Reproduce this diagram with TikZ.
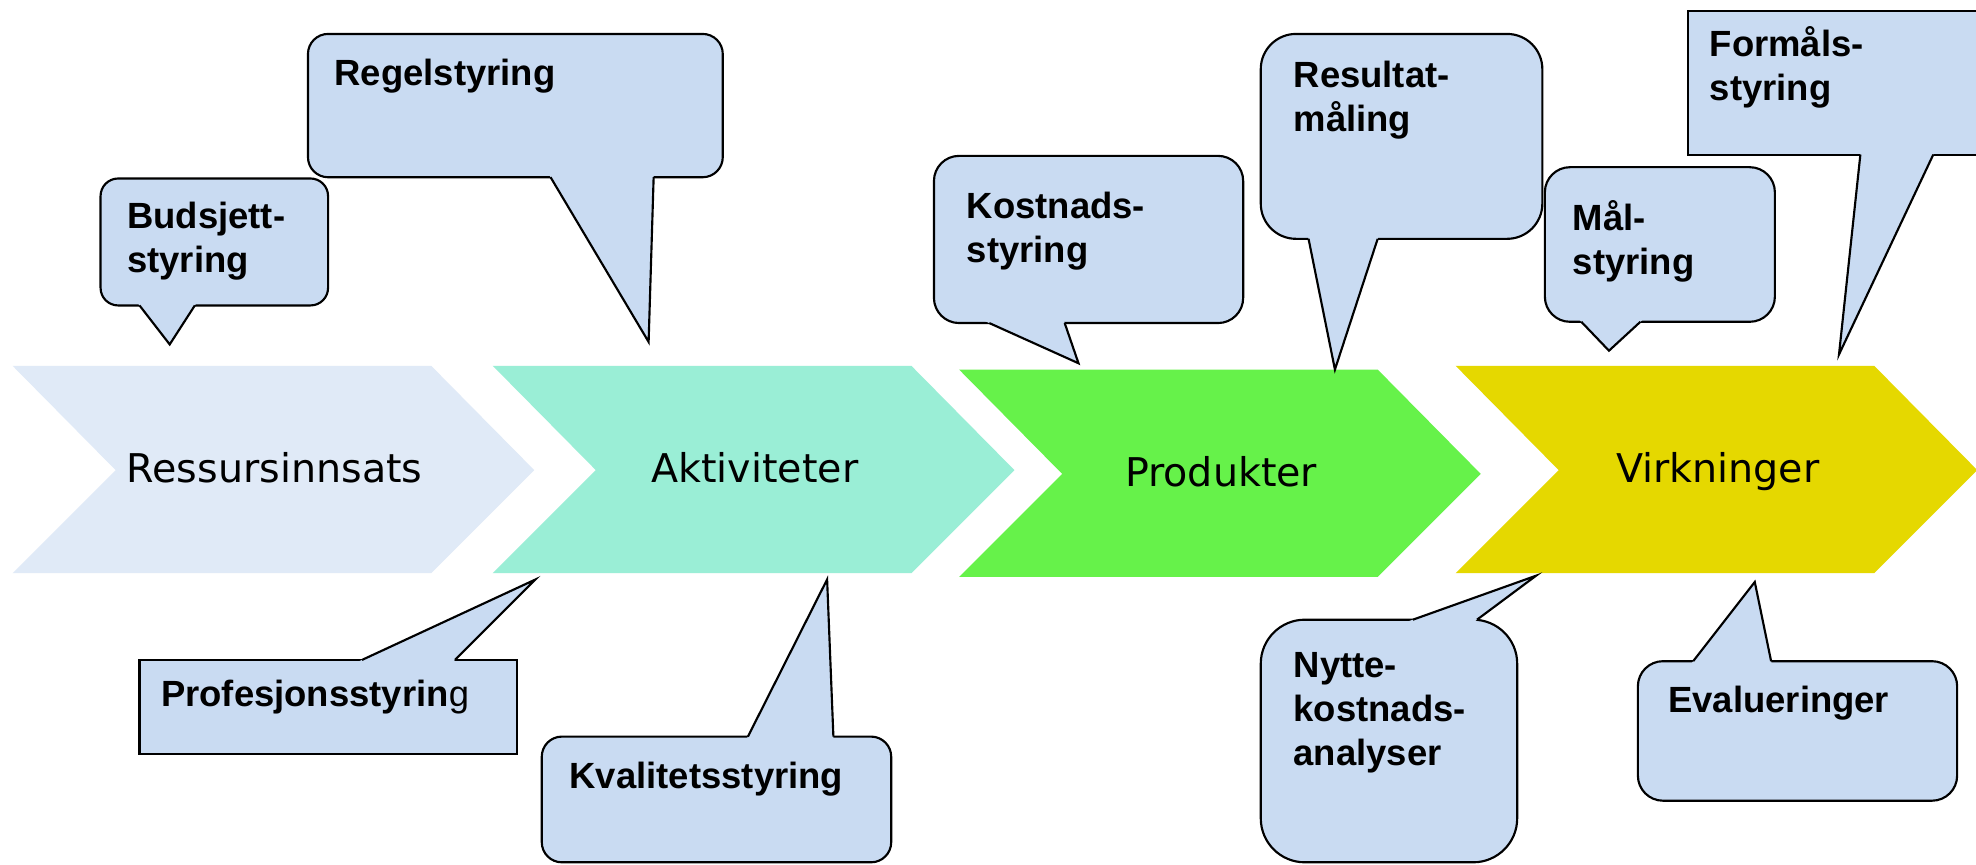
\documentclass[tikz,border=0pt]{standalone}
\usepackage{fontspec}
\setmainfont{Liberation Sans}
\newfontfamily\chevfont{DejaVu Sans}
\usepackage{tikz}
\usetikzlibrary{calc}
\definecolor{ressurs}{HTML}{E0EAF7}
\definecolor{aktiv}{HTML}{9AEED6}
\definecolor{produkt}{HTML}{66F24A}
\definecolor{virkning}{HTML}{E5D800}
\definecolor{bullefond}{HTML}{C9DBF2}
\tikzstyle{bulle}=[draw=black,line width=1.7pt,fill=bullefond]
\tikzstyle{queue}=[draw=black,line width=1.7pt,line join=miter]
\tikzstyle{etiq}=[anchor=base west,inner sep=0pt,align=left,font=\fontsize{29}{35}\selectfont\bfseries]
\tikzstyle{titre}=[anchor=base,inner sep=0pt,font=\chevfont\fontsize{31.5}{37}\selectfont]
\newcommand{\bulle}[6][]{%
  \draw[bulle,#1] #2 rectangle #3;
  \fill[bullefond] ($#4!-0.06!#5$) -- #5 -- ($#6!-0.06!#5$) -- cycle;
  \draw[queue] #4 -- #5 -- #6;}

\begin{document}
\begin{tikzpicture}[x=1pt,y=-1pt]
\useasboundingbox (0,0) rectangle (1572,687.4);
\fill[white] (0,0) rectangle (1572,687.4);
%Les fleches
\foreach \x/\y/\coul/\texte/\nom in {10/291/ressurs/Ressursinnsats/res,
  392/291/aktiv/Aktiviteter/akt, 763/294/produkt/Produkter/prod,
  1158/291/virkning/Virkninger/virk}{
  \fill[\coul] (\x,\y) -- ++(333,0) -- ++(82,83) -- ++(-82,82) -- ++(-333,0) -- ++(82,-82) -- cycle;
  \node[titre] (\nom) at (\x+208.5,\y+93) {\texte};
}
%Les bulles
\bulle[rounded corners=14]{(80,142)}{(261,243)}{(111,243)}{(135,274)}{(155,243)}
\bulle[rounded corners=16]{(245,27)}{(575,141)}{(438,141)}{(516,272)}{(520,141)}
\bulle{(111,525)}{(411,600)}{(288,525)}{(426,461)}{(362,525)}
\bulle[rounded corners=16]{(431,586)}{(709,686)}{(595,586)}{(658,461)}{(663,586)}
\bulle[rounded corners=20]{(743,124)}{(989,257)}{(787,257)}{(858,289)}{(847,257)}
\bulle[rounded corners=28]{(1003,27)}{(1227,190)}{(1041,190)}{(1062,294)}{(1096,190)}
\bulle[rounded corners=20]{(1229,133)}{(1412,256)}{(1258,256)}{(1280,279)}{(1305,256)}
\bulle{(1343,9)}{(1590,123)}{(1480,123)}{(1463,282)}{(1538,123)}
\bulle[rounded corners=35]{(1003,493)}{(1207,686)}{(1124,493)}{(1222,458)}{(1175,493)}
\bulle[rounded corners=20]{(1303,526)}{(1557,637)}{(1347,526)}{(1396,463)}{(1409,526)}
%Les textes (base = derniere ligne)
\node[etiq] (budsjett) at (101,217) {Budsjett-\\styring};
\node[etiq] (regel) at (266,68) {Regelstyring};
\node[etiq] (profesjon) at (128,562) {Profesjonsstyrin{\mdseries g}};
\node[etiq] (kvalitet) at (453,627) {Kvalitetsstyring};
\node[etiq] (kostnad) at (769,209) {Kostnads-\\styring};
\node[etiq] (resultat) at (1029,105) {Resultat-\\måling};
\node[etiq] (maal) at (1251,218) {Mål-\\styring};
\node[etiq] (formaal) at (1360,80) {Formåls-\\styring};
\node[etiq] (nytte) at (1029,609) {Nytte-\\kostnads-\\analyser};
\node[etiq] (evaluering) at (1327,567) {Evalueringer};
\end{tikzpicture}
\end{document}
